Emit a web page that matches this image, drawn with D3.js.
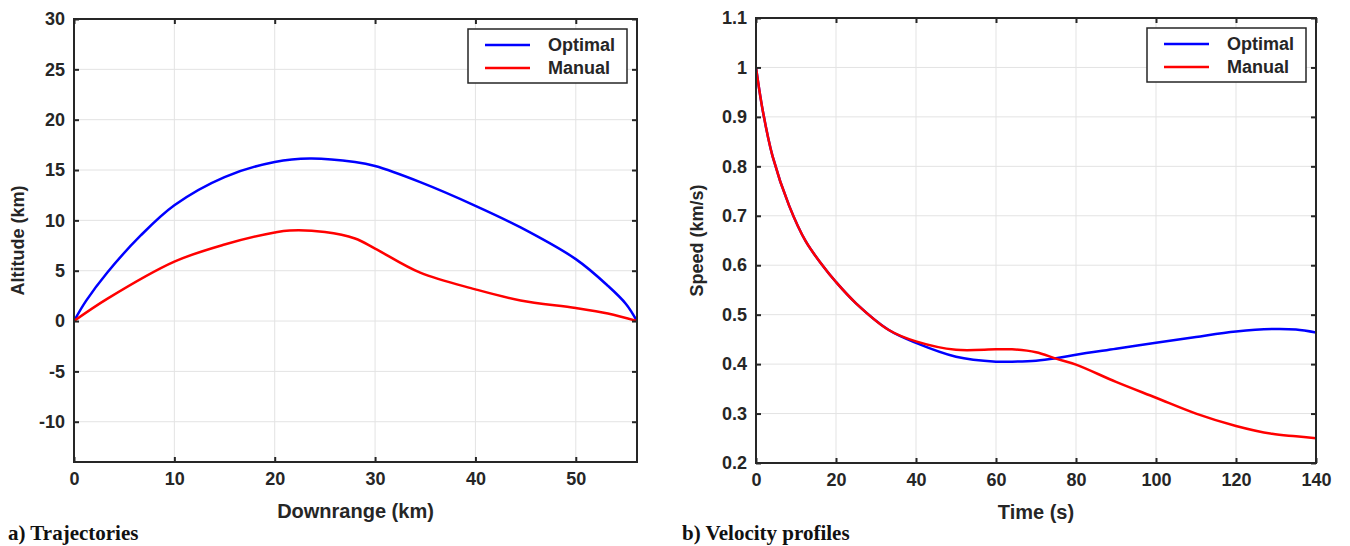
<!DOCTYPE html>
<html>
<head>
<meta charset="utf-8">
<script src="https://cdn.jsdelivr.net/npm/d3@7"></script>
<style>
  body { margin: 0; background: #fff; }
  text { font-family: "Liberation Sans", Arial, sans-serif; font-weight: bold; fill: #262626; }
  .caption { font-family: "Liberation Serif", "Times New Roman", serif; fill: #111; }
</style>
</head>
<body>
<script>
// --- data ---
const seriesNames = ["Optimal", "Manual"]
const seriesColors = ["#0000ff", "#ff0000"]

// a) trajectories: downrange (km) vs altitude (km)
const trajOptimalX = [0, 1.2, 3.3, 6.65, 10, 15, 20, 23.5, 28, 30, 34.5, 40, 44.5, 50, 53.2, 55, 56.1]
const trajOptimalY = [0, 2.0, 4.8, 8.5, 11.5, 14.3, 15.8, 16.15, 15.8, 15.4, 13.8, 11.45, 9.3, 6.15, 3.5, 1.7, 0]
const trajManualX = [0, 3.3, 10, 15, 20, 21.5, 25, 28, 30, 34.5, 40, 44.5, 50, 53.2, 56.1]
const trajManualY = [0, 2.2, 5.9, 7.6, 8.8, 9.0, 8.85, 8.2, 7.2, 4.8, 3.15, 2.05, 1.3, 0.75, 0]

// b) velocity profiles: time (s) vs speed (km/s)
const velTime = [0, 1.66, 4.15, 8.3, 12.45, 16.6, 20, 25, 33.2, 40, 50, 60, 64, 70, 75, 80, 90, 100, 110, 120, 129, 135, 140]
const velOptimal = [1.0, 0.914, 0.82, 0.72, 0.648, 0.6, 0.566, 0.523, 0.469, 0.443, 0.415, 0.405, 0.405, 0.407, 0.412, 0.419, 0.431, 0.443, 0.455, 0.466, 0.471, 0.470, 0.464]
const velManual = [1.0, 0.914, 0.82, 0.72, 0.648, 0.6, 0.566, 0.523, 0.469, 0.446, 0.429, 0.430, 0.430, 0.424, 0.411, 0.399, 0.364, 0.332, 0.300, 0.275, 0.259, 0.254, 0.25]

const trajXTicks = [0, 10, 20, 30, 40, 50]
const trajYTicks = [-10, -5, 0, 5, 10, 15, 20, 25, 30]
const velXTicks = [0, 20, 40, 60, 80, 100, 120, 140]
const velYTicks = [0.2, 0.3, 0.4, 0.5, 0.6, 0.7, 0.8, 0.9, 1, 1.1]

const svg = d3.select("body").append("svg")
    .attr("width", 1350)
    .attr("height", 546)

function drawPanel(p) {
    const x = d3.scaleLinear().domain(p.xDomain).range([p.left, p.right])
    const y = d3.scaleLinear().domain(p.yDomain).range([p.bottom, p.top])
    const g = svg.append("g")

    // grid
    g.selectAll(".gx").data(p.xTicks).enter().append("line")
        .attr("x1", d => x(d)).attr("x2", d => x(d))
        .attr("y1", p.top).attr("y2", p.bottom)
        .attr("stroke", "#e3e3e3").attr("stroke-width", 1)
    g.selectAll(".gy").data(p.yTicks).enter().append("line")
        .attr("y1", d => y(d)).attr("y2", d => y(d))
        .attr("x1", p.left).attr("x2", p.right)
        .attr("stroke", "#e3e3e3").attr("stroke-width", 1)

    // curves
    const clipId = "clip" + p.id
    svg.append("clipPath").attr("id", clipId).append("rect")
        .attr("x", p.left).attr("y", p.top)
        .attr("width", p.right - p.left).attr("height", p.bottom - p.top)
    const line = d3.line()
        .x(d => x(d[0]))
        .y(d => y(d[1]))
        .curve(d3.curveCatmullRom.alpha(0.5))
    p.series.forEach((s, i) => {
        g.append("path")
            .datum(d3.zip(s.xs, s.ys))
            .attr("d", line)
            .attr("fill", "none")
            .attr("stroke", seriesColors[i])
            .attr("stroke-width", 2.5)
            .attr("clip-path", "url(#" + clipId + ")")
    })

    // axes (box with inward ticks on all sides)
    const tk = 5
    const fmt = d => String(d)   // plain hyphen minus, like the original
    g.append("g").attr("transform", `translate(0,${p.bottom})`)
        .call(d3.axisBottom(x).tickValues(p.xTicks).tickSize(-tk).tickPadding(10).tickFormat(fmt))
    g.append("g").attr("transform", `translate(0,${p.top})`)
        .call(d3.axisTop(x).tickValues(p.xTicks).tickSize(-tk).tickFormat(""))
    g.append("g").attr("transform", `translate(${p.left},0)`)
        .call(d3.axisLeft(y).tickValues(p.yTicks).tickSize(-tk).tickPadding(9).tickFormat(fmt))
    g.append("g").attr("transform", `translate(${p.right},0)`)
        .call(d3.axisRight(y).tickValues(p.yTicks).tickSize(-tk).tickFormat(""))
    g.selectAll(".domain").remove()
    g.selectAll(".tick line").attr("stroke", "#262626").attr("stroke-width", 2)
    g.selectAll(".tick text")
        .style("font-family", "'Liberation Sans', Arial, sans-serif")
        .style("font-weight", "bold")
        .style("font-size", "18px")
        .attr("fill", "#262626")
    g.append("rect")
        .attr("x", p.left).attr("y", p.top)
        .attr("width", p.right - p.left).attr("height", p.bottom - p.top)
        .attr("fill", "none").attr("stroke", "#262626").attr("stroke-width", 2)

    // axis labels
    g.append("text")
        .attr("x", (p.left + p.right) / 2).attr("y", p.bottom + 56)
        .attr("text-anchor", "middle").style("font-size", "20px")
        .text(p.xLabel)
    g.append("text")
        .attr("transform", `translate(${p.yLabelX},${(p.top + p.bottom) / 2}) rotate(-90)`)
        .attr("text-anchor", "middle").style("font-size", "18px")
        .text(p.yLabel)

    // legend
    const lw = 159, lh = 54
    const lx = p.right - 10 - lw, ly = p.top + 10
    const lg = g.append("g")
    lg.append("rect").attr("x", lx).attr("y", ly).attr("width", lw).attr("height", lh)
        .attr("fill", "#fff").attr("stroke", "#262626").attr("stroke-width", 1.5)
    seriesNames.forEach((n, i) => {
        const yy = ly + 16 + i * 23
        lg.append("line").attr("x1", lx + 17).attr("x2", lx + 62)
            .attr("y1", yy).attr("y2", yy)
            .attr("stroke", seriesColors[i]).attr("stroke-width", 2.5)
        lg.append("text").attr("x", lx + 80).attr("y", yy + 6)
            .style("font-size", "18px").text(n)
    })

    // caption
    svg.append("text").attr("class", "caption")
        .attr("x", p.captionX).attr("y", 540)
        .style("font-size", "21px")
        .text(p.caption)
}

drawPanel({
    id: "a", left: 74, right: 637, top: 19, bottom: 462,
    xDomain: [0, 56.1], yDomain: [-14, 30],
    xTicks: trajXTicks, yTicks: trajYTicks,
    xLabel: "Downrange (km)", yLabel: "Altitude (km)", yLabelX: 24,
    series: [{ xs: trajOptimalX, ys: trajOptimalY }, { xs: trajManualX, ys: trajManualY }],
    caption: "a) Trajectories", captionX: 8
})

drawPanel({
    id: "b", left: 756, right: 1316, top: 18, bottom: 463,
    xDomain: [0, 140], yDomain: [0.2, 1.1],
    xTicks: velXTicks, yTicks: velYTicks,
    xLabel: "Time (s)", yLabel: "Speed (km/s)", yLabelX: 703,
    series: [{ xs: velTime, ys: velOptimal }, { xs: velTime, ys: velManual }],
    caption: "b) Velocity profiles", captionX: 682
})
</script>
</body>
</html>
